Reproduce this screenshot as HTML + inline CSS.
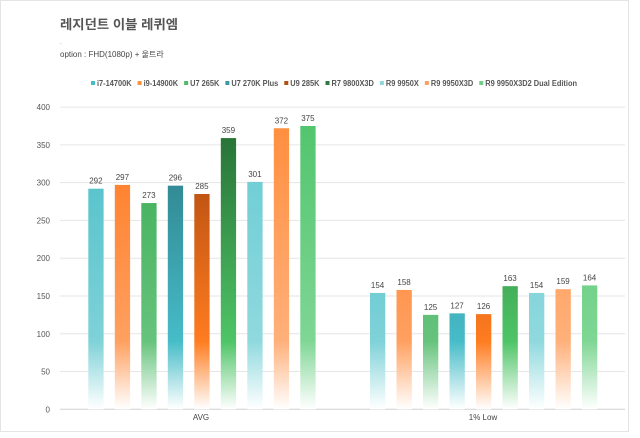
<!DOCTYPE html>
<html><head><meta charset="utf-8"><style>
html,body{margin:0;padding:0;background:#fff;}
body{width:640px;height:433px;overflow:hidden;font-family:"Liberation Sans","Noto Sans CJK KR",sans-serif;}
</style></head><body>
<svg id="s" width="640" height="433" xmlns="http://www.w3.org/2000/svg" font-family="Liberation Sans, Noto Sans CJK KR, sans-serif">
<rect x="0.5" y="0.5" width="628" height="431" fill="#fff" stroke="#e4e4e4"/>
<text x="60" y="29" font-size="13" font-weight="bold" fill="#555" textLength="118" lengthAdjust="spacingAndGlyphs">레지던트 이블 레퀴엠</text>
<text x="60" y="44" font-size="6" fill="#888">.</text>
<text x="60" y="57" font-size="8" fill="#444">option :  FHD(1080p) + 울트라</text>
</svg>
<script>
(function(){
const s=document.getElementById('s');const NS='http://www.w3.org/2000/svg';
function el(t,a,txt){const e=document.createElementNS(NS,t);for(const k in a)e.setAttribute(k,a[k]);if(txt!==undefined)e.textContent=txt;s.appendChild(e);return e;}
const Y=v=>409.3-v*0.7555;
const names=["i7-14700K","i9-14900K","U7 265K","U7 270K Plus","U9 285K","R7 9800X3D","R9 9950X","R9 9950X3D","R9 9950X3D2 Dual Edition"];
const tops=["#45bcc6","#ff7418","#35a94f","#276f78","#9a3d0c","#22652f","#62c9d2","#ff8b38","#4dc36a"];
const mids=["#7ed2d8","#ffa060","#66c37c","#46bcc8","#ff7c20","#4ec466","#8fd9de","#ffb07a","#7fd694"];
const leg=["#45bcc6","#ff9040","#50b868","#3a9aa4","#b05010","#2e7a40","#8fd9de","#ffa060","#6cd088"];
const defs=el('defs',{});
tops.forEach((c,i)=>{const g=document.createElementNS(NS,'linearGradient');g.setAttribute('id','g'+i);g.setAttribute('gradientUnits','userSpaceOnUse');g.setAttribute('x1',0);g.setAttribute('x2',0);g.setAttribute('y1',100);g.setAttribute('y2',409);
[[0,c],[0.78,mids[i]],[1,'#ffffff']].forEach(([o,cc])=>{const st=document.createElementNS(NS,'stop');st.setAttribute('offset',o);st.setAttribute('stop-color',cc);g.appendChild(st);});defs.appendChild(g);});
for(let v=0;v<=400;v+=50){el('line',{x1:60,x2:625,y1:Y(v),y2:Y(v),stroke:v?'#e6e6e6':'#d0d0d0','stroke-width':1});el('text',{x:50,y:Y(v)+3,'font-size':8,fill:'#555','text-anchor':'end'},v);}
const ly=86;const texts=[];let tot=0;
names.forEach((n,i)=>{const t=el('text',{x:0,y:ly,'font-size':8,'font-weight':'bold',fill:'#555'},n);let w=n.length*4.6;try{w=t.getComputedTextLength();}catch(e){}texts.push([t,w]);tot+=w;});
const fixed=9*6+8*6;const k=(486-fixed)/tot;
let lx=91;
texts.forEach(([t,w],i)=>{el('rect',{x:lx,y:ly-5,width:4,height:4,fill:leg[i]});const nw=w*k;t.setAttribute('x',lx+6);t.setAttribute('textLength',nw);t.setAttribute('lengthAdjust','spacingAndGlyphs');lx+=6+nw+6;});
const data=[[292,297,273,296,285,359,301,372,375],[154,158,125,127,126,163,154,159,164]];
const starts=[88.3,370];
data.forEach((d,gi)=>{d.forEach((v,i)=>{const x=starts[gi]+i*26.5;el('rect',{x:x,y:Y(v),width:15.3,height:409.3-Y(v),fill:'url(#g'+i+')'});el('text',{x:x+7.6,y:Y(v)-5,'font-size':8,fill:'#444','text-anchor':'middle'},v);});});
el('text',{x:201,y:420,'font-size':8,fill:'#444','text-anchor':'middle'},'AVG');
el('text',{x:483,y:420,'font-size':8,fill:'#444','text-anchor':'middle'},'1% Low');
})();
</script>
</body></html>
